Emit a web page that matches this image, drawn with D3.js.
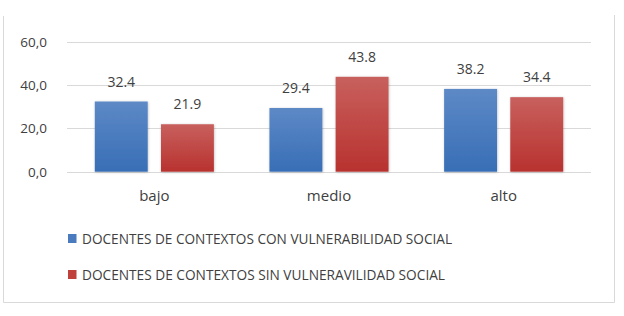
<!DOCTYPE html>
<html><head><meta charset="utf-8">
<script src="https://cdn.jsdelivr.net/npm/d3@7"></script>
<style>html,body{margin:0;padding:0;background:#fff;}</style>
</head><body><svg id="c" width="624" height="316"></svg>
<script>
const categories = ["bajo", "medio", "alto"];
const seriesNames = ["DOCENTES DE CONTEXTOS CON VULNERABILIDAD SOCIAL", "DOCENTES DE CONTEXTOS SIN VULNERAVILIDAD SOCIAL"];
const conVulnerabilidad = [32.4, 29.4, 38.2];
const sinVulnerabilidad = [21.9, 43.8, 34.4];
const yTicks = [0, 20, 40, 60];

(function () {
const svg = d3.select("#c");
const font = "Open Sans, Lato, sans-serif";
const txt = "#404040";
const pLeft = 67, pRight = 591, pTop = 41.7, pBottom = 171.7;

// frame
svg.append("path").attr("d", "M3.5,16 V302.5 H614.5 V15").attr("fill", "none").attr("stroke", "#d9d9d9").attr("stroke-width", 1);

const defs = svg.append("defs");
const mkGrad = (id, c1, c2) => {
  const g = defs.append("linearGradient").attr("id", id).attr("x1", 0).attr("y1", 0).attr("x2", 0).attr("y2", 1);
  g.append("stop").attr("offset", "0%").attr("stop-color", c1);
  g.append("stop").attr("offset", "100%").attr("stop-color", c2);
};
mkGrad("gb", "#5d89c6", "#386eb6");
mkGrad("gr", "#c8605d", "#b8322f");
const f = defs.append("filter").attr("id", "sh").attr("x", "-10%").attr("y", "-10%").attr("width", "120%").attr("height", "120%");
f.append("feDropShadow").attr("dx", 0.5).attr("dy", 0.5).attr("stdDeviation", 1).attr("flood-color", "#000").attr("flood-opacity", 0.25);

const y = d3.scaleLinear().domain([0, 60]).range([pBottom, pTop]);
const x0 = d3.scaleBand().domain(categories).range([pLeft, pRight]).paddingInner(0).paddingOuter(0);
const x1 = d3.scaleBand().domain([0, 1]).range([0, x0.bandwidth()]).paddingInner(0.2).paddingOuter(0.42);

// gridlines
svg.append("g").selectAll("line").data(yTicks).join("line")
  .attr("x1", pLeft).attr("x2", pRight)
  .attr("y1", d => Math.round(y(d)) + 0.5).attr("y2", d => Math.round(y(d)) + 0.5)
  .attr("stroke", "#d9d9d9").attr("stroke-width", 1);

const yAxis = svg.append("g").attr("transform", `translate(${pLeft},0)`)
  .call(d3.axisLeft(y).tickValues(yTicks).tickSize(0).tickPadding(20).tickFormat(d => d3.format(".1f")(d).replace(".", ",")));
yAxis.select(".domain").remove();
yAxis.selectAll("text").attr("font-family", font).attr("font-size", 13.5).attr("fill", txt).attr("dy", "0.34em");

const xAxis = svg.append("g").attr("transform", `translate(0,${pBottom})`)
  .call(d3.axisBottom(x0).tickSize(0).tickPadding(19));
xAxis.select(".domain").remove();
xAxis.selectAll("text").attr("font-family", font).attr("font-size", 15).attr("fill", txt);

const data = [conVulnerabilidad, sinVulnerabilidad];
const grads = ["url(#gb)", "url(#gr)"];
categories.forEach((c, i) => {
  [0, 1].forEach(s => {
    const v = data[s][i];
    const bx = x0(c) + x1(s);
    svg.append("rect").attr("x", bx).attr("y", y(v)).attr("width", x1.bandwidth()).attr("height", y(0) - y(v))
      .attr("fill", grads[s]).attr("filter", "url(#sh)");
    svg.append("text").attr("x", bx + x1.bandwidth() / 2).attr("y", y(v) - 15)
      .attr("text-anchor", "middle").attr("font-family", font).attr("font-size", 14).attr("fill", txt).text(v.toFixed(1));
  });
});

// legend
const legColors = ["#4a7bbf", "#c0403c"];
const legY = [238.5, 274.5];
seriesNames.forEach((n, i) => {
  svg.append("rect").attr("x", 68).attr("y", legY[i] - 4.5).attr("width", 8.5).attr("height", 9).attr("fill", legColors[i]);
  svg.append("text").attr("x", 82).attr("y", legY[i]).attr("dy", "0.36em")
    .attr("font-family", font).attr("font-size", 14).attr("fill", txt)
    .attr("textLength", i === 0 ? 370 : 363).attr("lengthAdjust", "spacingAndGlyphs").text(n);
});
})();
</script></body></html>
